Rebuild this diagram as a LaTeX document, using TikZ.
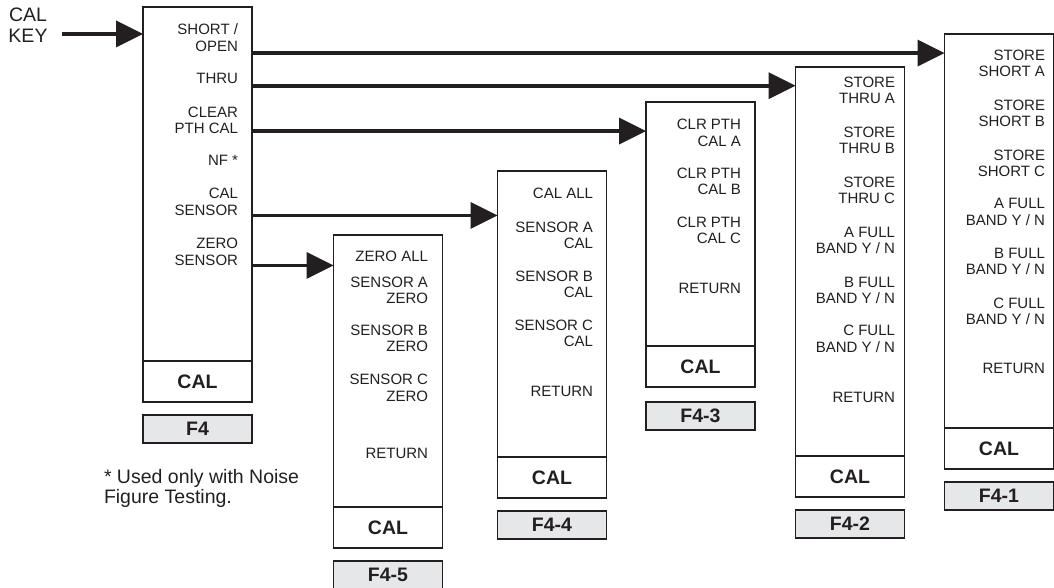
\documentclass[tikz,border=0pt]{standalone}
\usepackage{fontspec}
\setmainfont{Liberation Sans}
\usetikzlibrary{positioning,arrows.meta}
\definecolor{ink}{HTML}{231F20}
\definecolor{tabgray}{HTML}{E6E7E8}
\tikzset{
  menubox/.style={draw=ink, line width=1.8pt, minimum width=109pt, inner sep=0pt, outer sep=0pt, anchor=north west},
  calbox/.style={draw=ink, line width=1.8pt, minimum width=109pt, minimum height=41pt, inner sep=0pt, outer sep=0pt, text=ink, font=\fontsize{19.5}{21}\selectfont\bfseries},
  tabbox/.style={calbox, fill=tabgray, minimum height=28pt},
  item/.style={anchor=north east, inner sep=0pt, outer sep=0pt, align=right, text=ink, font=\fontsize{15}{16.5}\selectfont},
  bigtext/.style={inner sep=0pt, outer sep=0pt, text=ink, font=\fontsize{19.5}{20.5}\selectfont},
  flow/.style={draw=ink, line width=3.8pt, -{Triangle[length=27pt, width=27pt, line width=0pt]}},
}

\begin{document}
\begin{tikzpicture}[x=1pt, y=-1pt]
  \useasboundingbox (0,0) rectangle (1054,588);

  % main menu
  \node[bigtext, anchor=north, align=center] (calkey) at (28,8.3) {CAL\\KEY};
  \node[menubox, minimum height=354pt] (f4) at (143,7) {};
  \node[calbox, below=0pt of f4] (f4c) {CAL};
  \node[tabbox, below=13pt of f4c] (f4l) {F4};
  \node[item] (sho) at (238,24) {SHORT /\\OPEN};
  \node[item] (thr) at (238,72.7) {THRU};
  \node[item] (clr) at (238,107) {CLEAR\\PTH CAL};
  \node[item] (nf) at (238,155) {NF *};
  \node[item] (cse) at (238,188.3) {CAL\\SENSOR};
  \node[item] (zse) at (238,238.3) {ZERO\\SENSOR};
  \node[bigtext, anchor=north west, align=left] (note) at (104,469) {* Used only with Noise\\Figure Testing.};

  % sub menus
  \node[menubox, minimum height=394pt] (f41) at (944.5,34) {};
  \node[calbox, below=0pt of f41] (f41c) {CAL};
  \node[tabbox, below=13pt of f41c] (f41l) {F4-1};
  \foreach \txt/\y [count=\i] in {{STORE\\SHORT A}/50, {STORE\\SHORT B}/100, {STORE\\SHORT C}/150,
      {A FULL\\BAND Y / N}/198.3, {B FULL\\BAND Y / N}/248, {C FULL\\BAND Y / N}/298, RETURN/363}
    \node[item] (f41-\i) at (1045,\y) {\txt};

  \node[menubox, minimum height=389pt] (f42) at (795.5,67) {};
  \node[calbox, below=0pt of f42] (f42c) {CAL};
  \node[tabbox, below=13pt of f42c] (f42l) {F4-2};
  \foreach \txt/\y [count=\i] in {{STORE\\THRU A}/76.7, {STORE\\THRU B}/126.7, {STORE\\THRU C}/176.7,
      {A FULL\\BAND Y / N}/226.7, {B FULL\\BAND Y / N}/276.7, {C FULL\\BAND Y / N}/325.5, RETURN/391.7}
    \node[item] (f42-\i) at (895,\y) {\txt};

  \node[menubox, minimum height=244pt] (f43) at (646,102) {};
  \node[calbox, below=0pt of f43] (f43c) {CAL};
  \node[tabbox, below=15pt of f43c] (f43l) {F4-3};
  \foreach \txt/\y [count=\i] in {{CLR PTH\\CAL A}/119.3, {CLR PTH\\CAL B}/168, {CLR PTH\\CAL C}/217, RETURN/283.3}
    \node[item] (f43-\i) at (741,\y) {\txt};

  \node[menubox, minimum height=286pt] (f44) at (497.5,171) {};
  \node[calbox, below=0pt of f44] (f44c) {CAL};
  \node[tabbox, below=13pt of f44c] (f44l) {F4-4};
  \foreach \txt/\y [count=\i] in {CAL ALL/188.3, {SENSOR A\\CAL}/221.7, {SENSOR B\\CAL}/270.7,
      {SENSOR C\\CAL}/320, RETURN/386}
    \node[item] (f44-\i) at (593,\y) {\txt};

  \node[menubox, minimum height=272pt] (f45) at (333.5,235) {};
  \node[calbox, below=0pt of f45] (f45c) {CAL};
  \node[tabbox, below=13pt of f45c] (f45l) {F4-5};
  \foreach \txt/\y [count=\i] in {ZERO ALL/251, {SENSOR A\\ZERO}/276.7, {SENSOR B\\ZERO}/325,
      {SENSOR C\\ZERO}/374.3, RETURN/448.3}
    \node[item] (f45-\i) at (428,\y) {\txt};

  % arrows
  \coordinate (keyin) at (62,34);
  \draw[flow] (keyin) -- (keyin -| f4.west);
  \draw[flow] ([yshift=-1.5pt]sho.south -| f4.east) -- ([yshift=-1.5pt]sho.south -| f41.west);
  \draw[flow] ([yshift=-2.5pt]thr.south -| f4.east) -- ([yshift=-2.5pt]thr.south -| f42.west);
  \draw[flow] ([yshift=3pt]clr.south -| f4.east) -- ([yshift=3pt]clr.south -| f43.west);
  \draw[flow] (cse.south -| f4.east) -- (cse.south -| f44.west);
  \draw[flow] (zse.south -| f4.east) -- (zse.south -| f45.west);
\end{tikzpicture}
\end{document}
